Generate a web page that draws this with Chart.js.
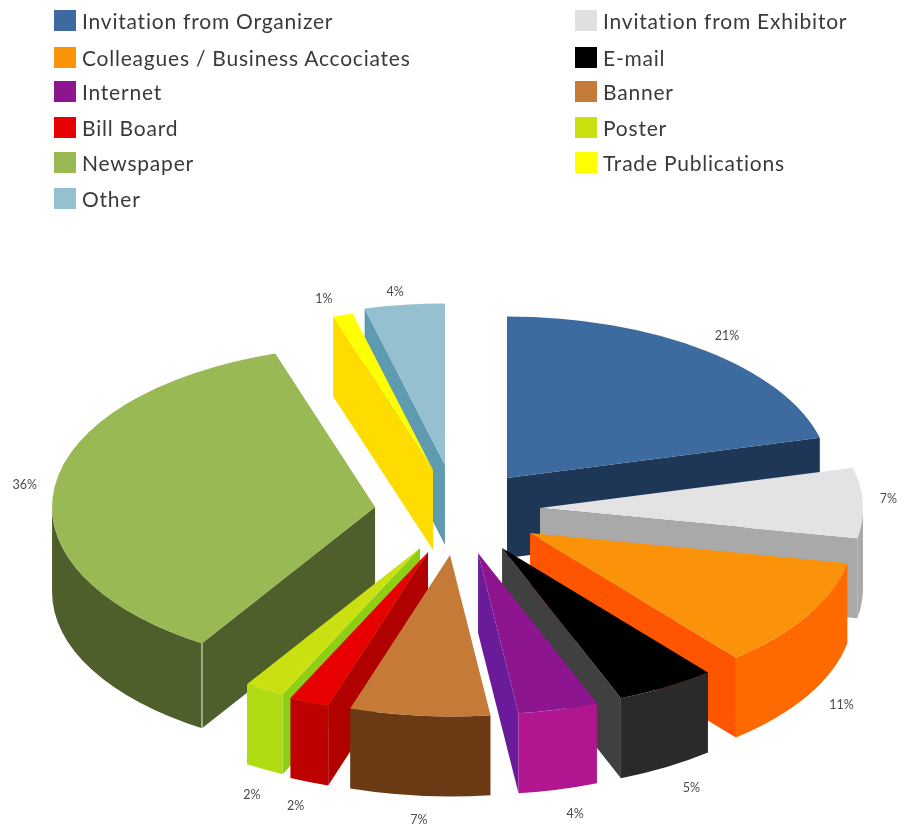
<!DOCTYPE html>
<html><head><meta charset="utf-8">
<style>
html,body{margin:0;padding:0;background:#fff;overflow:hidden}
#wrap{position:relative;width:904px;height:829px}
canvas{position:absolute;left:0;top:0}
.sw{position:absolute;width:22px;height:21px}
.tx{position:absolute;font:21px Lato,sans-serif;color:#3a3a3a;letter-spacing:.78px;line-height:24px;white-space:nowrap}
</style>
<script src="https://cdn.jsdelivr.net/npm/chart.js@4"></script>
</head><body><div id="wrap"><canvas id="c" width="904" height="829"></canvas></div>
<script>
const categories=["Invitation from Organizer","Invitation from Exhibitor","Colleagues / Business Accociates","E-mail","Internet","Banner","Bill Board","Poster","Newspaper","Trade Publications","Other"];
const values=[21,7,11,5,4,7,2,2,36,1,4];
const topColors=["#3d6a9f","#e3e3e3","#fb930a","#000000","#8e1590","#c67a38","#e80000","#cbe010","#98b954","#ffff00","#94c0cf"];
const outerWallColors=["#1e3757","#a9a9a9","#ff6a00","#2a2a2a","#b0168f","#693a14","#bd0000","#b0dc14","#4e5f2c","#ffdc00","#5f9bb0"];
const radialWallColors=["#1e3757","#a9a9a9","#ff5400","#404040","#6a1b9a","#693a14","#b00000","#8ecf14","#4e5f2c","#ffdc00","#5f9bb0"];
const explode=[87.4,88.2,88.6,87.5,86,85.8,83.2,78.5,77.6,85.9,94.1];
const explodeSide=[1.8,-5.2,-3.5,-6.4,-4.8,-6.1,-7.1,-6.7,0.3,5.2,4.8];
const labelGap=[36,26,39,49,52,49,50,50,30,36,27];
const labelTurn=[0,-1.3,0,0,-0.6,-0.6,-0.8,-2,0,-1.5,-1];
const legendLeft=[0,2,4,6,8,10];
const legendRight=[1,3,5,7,9];
const legendRowY=[21,58,92,128,163,199];

const SQUASH=0.5, CENTER_Y=512, RADIUS=323, DEPTH=80;
const wrap=document.getElementById('wrap');
function legendCol(list,sx,tx){list.forEach((idx,r)=>{
  const y=legendRowY[r];
  const s=document.createElement('div');s.className='sw';s.style.cssText=`left:${sx}px;top:${y-11}px;background:${idx===1?'#e0e0e0':topColors[idx]}`;
  const t=document.createElement('div');t.className='tx';t.style.cssText=`left:${tx}px;top:${y-12}px`;t.textContent=categories[idx];
  wrap.appendChild(s);wrap.appendChild(t);});}
legendCol(legendLeft,54,82);legendCol(legendRight,575,603);

// displacement of a slice in the un-squashed pie plane
function shift(a,i){const m=(a.startAngle+a.endAngle)/2,o=explode[i],s=explodeSide[i];
  return [o*Math.cos(m)-s*Math.sin(m),o*Math.sin(m)+s*Math.cos(m)];}

class ExplodedPie extends Chart.PieController{
  draw(){const ctx=this.chart.ctx;
    this._cachedMeta.data.forEach((a,i)=>{const d=shift(a,i);ctx.save();ctx.translate(d[0],d[1]);a.draw(ctx,this.chart.chartArea);ctx.restore();});}
}
ExplodedPie.id='explodedPie';
ExplodedPie.defaults=Chart.PieController.defaults;
ExplodedPie.overrides=Chart.PieController.overrides;
Chart.register(ExplodedPie);

const pie3d={id:'pie3d',
 beforeDatasetDraw(chart){
  const ctx=chart.ctx, arcs=chart.getDatasetMeta(0).data;
  const order=arcs.map((a,i)=>i).sort((p,q)=>Math.sin((arcs[p].startAngle+arcs[p].endAngle)/2)-Math.sin((arcs[q].startAngle+arcs[q].endAngle)/2));
  ctx.save();
  order.forEach(i=>{
    const a=arcs[i],R=a.outerRadius,sh=shift(a,i);
    const X=a.x+sh[0],Y=CENTER_Y+SQUASH*sh[1],d=i===8?85:DEPTH;
    const pt=t=>[X+R*Math.cos(t),Y+SQUASH*R*Math.sin(t)];
    const radial=t=>{const p=pt(t);ctx.fillStyle=radialWallColors[i];ctx.beginPath();ctx.moveTo(X,Y);ctx.lineTo(p[0],p[1]);ctx.lineTo(p[0],p[1]+d);ctx.lineTo(X,Y+d);ctx.closePath();ctx.fill();};
    if(Math.sin(a.startAngle-Math.PI/2)>0.001)radial(a.startAngle);
    if(Math.sin(a.endAngle+Math.PI/2)>0.001)radial(a.endAngle);
    for(let k=-1;k<=1;k++){
      const t0=Math.max(a.startAngle,k*2*Math.PI),t1=Math.min(a.endAngle,Math.PI+k*2*Math.PI);
      if(t1>t0){ctx.fillStyle=outerWallColors[i];ctx.beginPath();ctx.ellipse(X,Y,R,R*SQUASH,0,t0,t1);ctx.ellipse(X,Y+d,R,R*SQUASH,0,t1,t0,true);ctx.closePath();ctx.fill();}
    }
    if(i===8){const p=pt(a.startAngle);ctx.strokeStyle='#d5dcc4';ctx.lineWidth=1.2;ctx.beginPath();ctx.moveTo(p[0],p[1]);ctx.lineTo(p[0],p[1]+d);ctx.stroke();}
  });
  ctx.restore();
  ctx.save();
  ctx.translate(0,CENTER_Y);ctx.scale(1,SQUASH);ctx.translate(0,-arcs[0].y);
 },
 afterDatasetDraw(chart){
  const ctx=chart.ctx, arcs=chart.getDatasetMeta(0).data;
  ctx.restore();
  ctx.save();ctx.fillStyle='#4a4a4a';ctx.font='12.5px Lato,sans-serif';ctx.textAlign='center';ctx.textBaseline='middle';
  arcs.forEach((a,i)=>{
    const m=(a.startAngle+a.endAngle)/2,sh=shift(a,i),r=a.outerRadius+labelGap[i],lm=m+labelTurn[i]*Math.PI/180;
    const X=a.x+sh[0],Y=CENTER_Y+SQUASH*sh[1];
    const extra=Math.sin(m)>0.2?DEPTH:0;
    ctx.fillText(values[i]+'%',X+r*Math.cos(lm),Y+SQUASH*r*Math.sin(lm)+extra);
  });
  ctx.restore();
 }};

new Chart(document.getElementById('c'),{type:'explodedPie',
 data:{labels:categories,datasets:[{data:values,backgroundColor:topColors,borderWidth:0,hoverOffset:0,clip:false}]},
 options:{responsive:false,animation:false,radius:RADIUS,layout:{padding:0},events:[],plugins:{legend:{display:false},tooltip:{enabled:false}}},
 plugins:[pie3d]});
</script></body></html>
